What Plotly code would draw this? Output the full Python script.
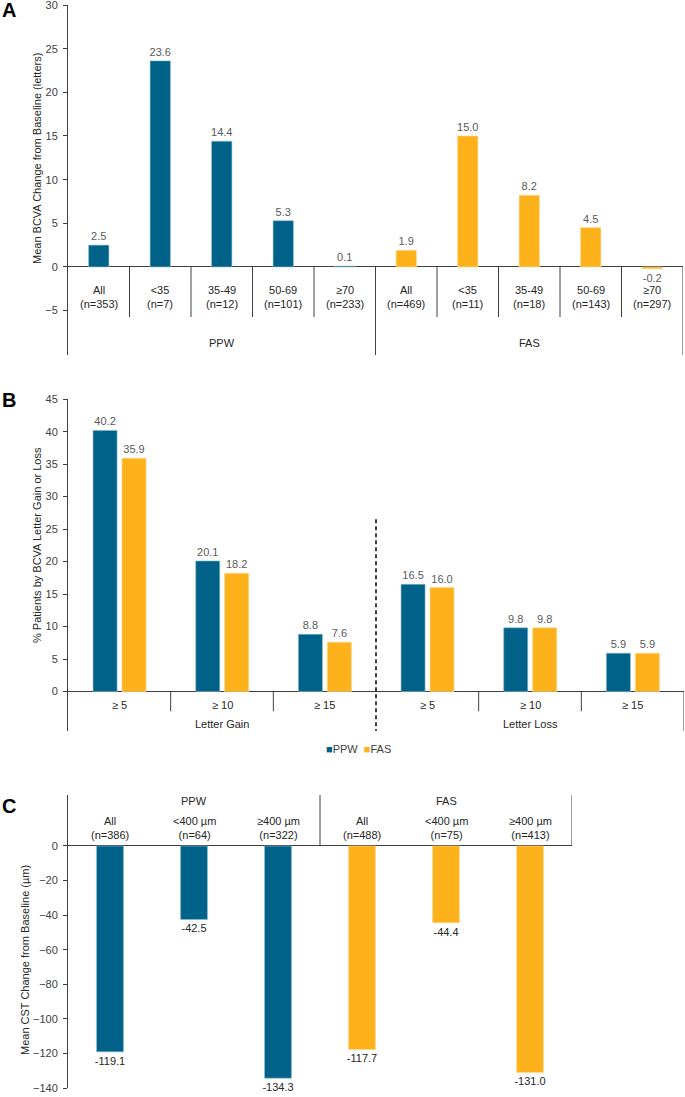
import plotly.graph_objects as go

# ---------------- data ----------------
# Panel A
a_cats = ["All", "<35", "35-49", "50-69", "≥70"]
a_ppw_n = [353, 7, 12, 101, 233]
a_fas_n = [469, 11, 18, 143, 297]
a_ppw = [2.5, 23.6, 14.4, 5.3, 0.1]
a_fas = [1.9, 15.0, 8.2, 4.5, -0.2]
a_groups = ["PPW", "FAS"]
a_ticks = [-5, 0, 5, 10, 15, 20, 25, 30]

# Panel B
b_cats = ["≥ 5", "≥ 10", "≥ 15"]
b_groups = ["Letter Gain", "Letter Loss"]
b_ppw = [40.2, 20.1, 8.8, 16.5, 9.8, 5.9]
b_fas = [35.9, 18.2, 7.6, 16.0, 9.8, 5.9]
b_ticks = [0, 5, 10, 15, 20, 25, 30, 35, 40, 45]

# Panel C
c_cats = ["All", "<400 µm", "≥400 µm"]
c_ppw_n = [386, 64, 322]
c_fas_n = [488, 75, 413]
c_ppw = [-119.1, -42.5, -134.3]
c_fas = [-117.7, -44.4, -131.0]
c_groups = ["PPW", "FAS"]
c_ticks = [0, -20, -40, -60, -80, -100, -120, -140]

series_names = ["PPW", "FAS"]

# ---------------- style ----------------
W, H = 685, 1097
FONT = "Arial, 'Liberation Sans', sans-serif"
PPW_COLOR = "#006289"
FAS_COLOR = "#FDB11B"
AXC = "#404040"
LBL_GRAY = "#595959"
TXT = "#262626"
colors = [PPW_COLOR, FAS_COLOR]
edges = ["#8DB9CC", "#FFD98A"]


def fx(px):
    return px / W


def fy(py):
    return 1 - py / H


fig = go.Figure()


def add_bar(x, y, width, offset, k, xa, ya, txtcol):
    fig.add_trace(go.Bar(x=x, y=y, width=width, offset=offset,
                         marker=dict(color=colors[k], line=dict(color=edges[k], width=0.6)),
                         texttemplate="%{y:.1f}", textposition="outside", constraintext="none",
                         textfont=dict(size=11, color=txtcol, family=FONT), cliponaxis=False,
                         showlegend=False, xaxis=xa, yaxis=ya, name=series_names[k]))


# ---- Panel A bars ----
nA = len(a_cats)
add_bar(list(range(nA)), a_ppw, 0.33, -0.165, 0, "x", "y", LBL_GRAY)
add_bar(list(range(nA, 2 * nA)), a_fas, 0.33, -0.165, 1, "x", "y", LBL_GRAY)

# ---- Panel B bars ----
nB = len(b_ppw)
add_bar(list(range(nB)), b_ppw, 0.234, -0.256, 0, "x2", "y2", LBL_GRAY)
add_bar(list(range(nB)), b_fas, 0.234, 0.026, 1, "x2", "y2", LBL_GRAY)

# ---- Panel C bars ----
nC = len(c_cats)
add_bar(list(range(nC)), c_ppw, 0.32, -0.16, 0, "x3", "y3", TXT)
add_bar(list(range(nC, 2 * nC)), c_fas, 0.32, -0.16, 1, "x3", "y3", TXT)

# ---------------- axes ----------------
A_BOT, B_BOT, C_TOP = -10.08, -6.08, 29.5


def yax(domain, rng, ticks, anchor):
    return dict(domain=domain, range=rng, tickvals=ticks, ticks="outside", ticklen=4,
                tickcolor=AXC, showline=True, linecolor=AXC, linewidth=1, showgrid=False,
                zeroline=True, zerolinecolor=AXC, zerolinewidth=1,
                tickfont=dict(size=11, color=AXC, family=FONT), ticklabelstandoff=3,
                ticklabeloverflow="allow",
                anchor=anchor, fixedrange=True, automargin=False)


def xax(domain, rng, anchor):
    return dict(domain=domain, range=rng, visible=False, anchor=anchor, fixedrange=True,
                automargin=False)


layout = dict(
    width=W, height=H, margin=dict(l=0, r=0, t=0, b=0, pad=0, autoexpand=False),
    paper_bgcolor="white", plot_bgcolor="white",
    font=dict(family=FONT, size=11, color=TXT),
    barmode="overlay", showlegend=False,
    xaxis=xax([fx(68), fx(683)], [-0.5, 2 * nA - 0.5], "y"),
    yaxis=yax([fy(355), fy(5)], [A_BOT, 30], a_ticks, "x"),
    xaxis2=xax([fx(68), fx(684)], [-0.5, nB - 0.5], "y2"),
    yaxis2=yax([fy(731), fy(399.2)], [B_BOT, 45], b_ticks, "x2"),
    xaxis3=xax([fx(68), fx(572)], [-0.5, 2 * nC - 0.5], "y3"),
    yaxis3=yax([fy(1088), fy(795)], [-140, C_TOP], c_ticks, "x3"),
)
fig.update_layout(**layout)

shapes = []
line_style = dict(color=AXC, width=1)

# Panel A separators
for k in range(1, 2 * nA):
    if k == nA:
        continue
    shapes.append(dict(type="line", xref="x", yref="y", x0=k - 0.5, x1=k - 0.5,
                       y0=0, y1=-5.73, line=line_style))
for k in (nA, 2 * nA):
    shapes.append(dict(type="line", xref="x", yref="y", x0=k - 0.5, x1=k - 0.5,
                       y0=0, y1=A_BOT, line=line_style))

# Panel B separators
half = len(b_cats)
for k in range(1, nB):
    if k == half:
        continue
    shapes.append(dict(type="line", xref="x2", yref="y2", x0=k - 0.5, x1=k - 0.5,
                       y0=0, y1=-3.05, line=line_style))
shapes.append(dict(type="line", xref="x2", yref="y2", x0=half - 0.5, x1=half - 0.5,
                   y0=26.5, y1=B_BOT, line=dict(color="black", width=1.5, dash="4px,3px")))
shapes.append(dict(type="line", xref="x2", yref="y2", x0=nB - 0.5, x1=nB - 0.5,
                   y0=0, y1=B_BOT, line=line_style))

# Panel C separators
for k in (nC, 2 * nC):
    shapes.append(dict(type="line", xref="x3", yref="y3", x0=k - 0.5, x1=k - 0.5,
                       y0=0, y1=C_TOP, line=line_style))

fig.update_layout(shapes=shapes)

ann = []
lab_font = dict(size=11, color=TXT, family=FONT)

# Panel A labels
for g, (grp, ns) in enumerate(zip(a_groups, [a_ppw_n, a_fas_n])):
    for i, (c, n) in enumerate(zip(a_cats, ns)):
        ann.append(dict(xref="x", yref="y", x=g * nA + i, y=-3.43, text=f"{c}<br>(n={n})",
                        showarrow=False, font=lab_font, xanchor="center", yanchor="middle"))
    ann.append(dict(xref="x", yref="y", x=g * nA + (nA - 1) / 2, y=-8.7, text=grp,
                    showarrow=False, font=lab_font, xanchor="center", yanchor="middle"))

# Panel B labels
for g, grp in enumerate(b_groups):
    for i, c in enumerate(b_cats):
        ann.append(dict(xref="x2", yref="y2", x=g * half + i, y=-2.08, text=c,
                        showarrow=False, font=lab_font, xanchor="center", yanchor="middle"))
    ann.append(dict(xref="x2", yref="y2", x=g * half + (half - 1) / 2, y=-5.0, text=grp,
                    showarrow=False, font=lab_font, xanchor="center", yanchor="middle"))

# Panel C labels
for g, (grp, ns) in enumerate(zip(c_groups, [c_ppw_n, c_fas_n])):
    for i, (c, n) in enumerate(zip(c_cats, ns)):
        ann.append(dict(xref="x3", yref="y3", x=g * nC + i, y=10.4, text=f"{c}<br>(n={n})",
                        showarrow=False, font=lab_font, xanchor="center", yanchor="middle"))
    ann.append(dict(xref="x3", yref="y3", x=g * nC + (nC - 1) / 2, y=26.0, text=grp,
                    showarrow=False, font=lab_font, xanchor="center", yanchor="middle"))

# Legend (panel B) as compact key
legend_text = "&nbsp;&nbsp;".join(
    f'<span style="color:{col}">■</span>{nm}' for col, nm in zip(colors, series_names))
ann.append(dict(xref="paper", yref="paper", x=fx(358), y=fy(749), text=legend_text,
                showarrow=False, font=dict(size=11, color=AXC, family=FONT),
                xanchor="center", yanchor="middle"))

# Axis titles
for text, px, py in [("Mean BCVA Change from Baseline (letters)", 37, 159),
                     ("% Patients by BCVA Letter Gain or Loss", 37, 545),
                     ("Mean CST Change from Baseline (µm)", 25, 960)]:
    ann.append(dict(xref="paper", yref="paper", x=fx(px), y=fy(py), text=text,
                    textangle=-90, showarrow=False, font=dict(size=11, color=TXT, family=FONT),
                    xanchor="center", yanchor="middle"))

# Panel letters
for text, px, py in [("A", 9, 10), ("B", 9, 400), ("C", 9, 806)]:
    ann.append(dict(xref="paper", yref="paper", x=fx(px), y=fy(py), text=f"<b>{text}</b>",
                    showarrow=False, font=dict(size=20, color="black", family=FONT),
                    xanchor="center", yanchor="middle"))

fig.update_layout(annotations=ann)

fig.write_html("out.html",
               config={"displayModeBar": False, "staticPlot": True},
               post_script="document.body.style.margin='0';document.body.style.padding='0';")
